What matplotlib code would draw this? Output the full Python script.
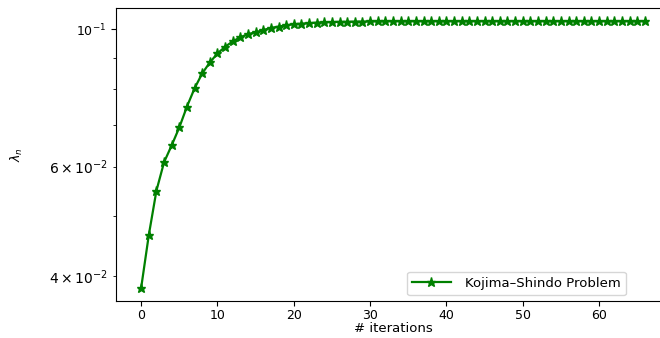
import matplotlib
matplotlib.use("Agg")
import matplotlib.pyplot as plt
import numpy as np

iterations = list(range(67))
lambda_n = [
    0.03826, 0.04654, 0.05489, 0.06101, 0.06496, 0.06944, 0.07503, 0.08030,
    0.08487, 0.08841, 0.09142, 0.09370, 0.09560, 0.09710, 0.09820, 0.09890,
    0.09970, 0.10050, 0.10100, 0.10150, 0.10190, 0.10210, 0.10230, 0.10250,
    0.10260, 0.10270, 0.10280, 0.10280, 0.10290, 0.10290, 0.10295, 0.10295,
    0.10300, 0.10300, 0.10300, 0.10300, 0.10300, 0.10300, 0.10300, 0.10300,
    0.10300, 0.10300, 0.10300, 0.10300, 0.10300, 0.10300, 0.10300, 0.10300,
    0.10300, 0.10300, 0.10300, 0.10300, 0.10300, 0.10300, 0.10300, 0.10300,
    0.10300, 0.10300, 0.10300, 0.10300, 0.10300, 0.10300, 0.10300, 0.10300,
    0.10300, 0.10300, 0.10300,
]
series_label = "Kojima–Shindo Problem"
xlabel = "# iterations"
ylabel = r"$\lambda_n$"

fs = 9
fig = plt.figure(figsize=(6.6, 3.38), dpi=100)
ax = fig.add_axes([116/660, 37/338, (670-116)/660, (301-8)/338])
ax.plot(iterations, lambda_n, "g-*", linewidth=1.6, markersize=6.5, label=series_label)
ax.set_yscale("log")
ax.set_xlabel(xlabel, fontsize=fs + 0.5, labelpad=0)
ax.set_ylabel(ylabel, fontsize=fs)
ax.yaxis.set_label_coords(-0.165, 0.5)
ax.tick_params(axis="both", which="major", labelsize=fs)
ax.tick_params(axis="x", pad=2.5)
ax.legend(loc="lower left", bbox_to_anchor=((407-116)/554, 0.02),
          borderaxespad=0, fontsize=fs + 0.5, handlelength=2.9, handletextpad=1.1)
fig.savefig("out.png", dpi=100)
